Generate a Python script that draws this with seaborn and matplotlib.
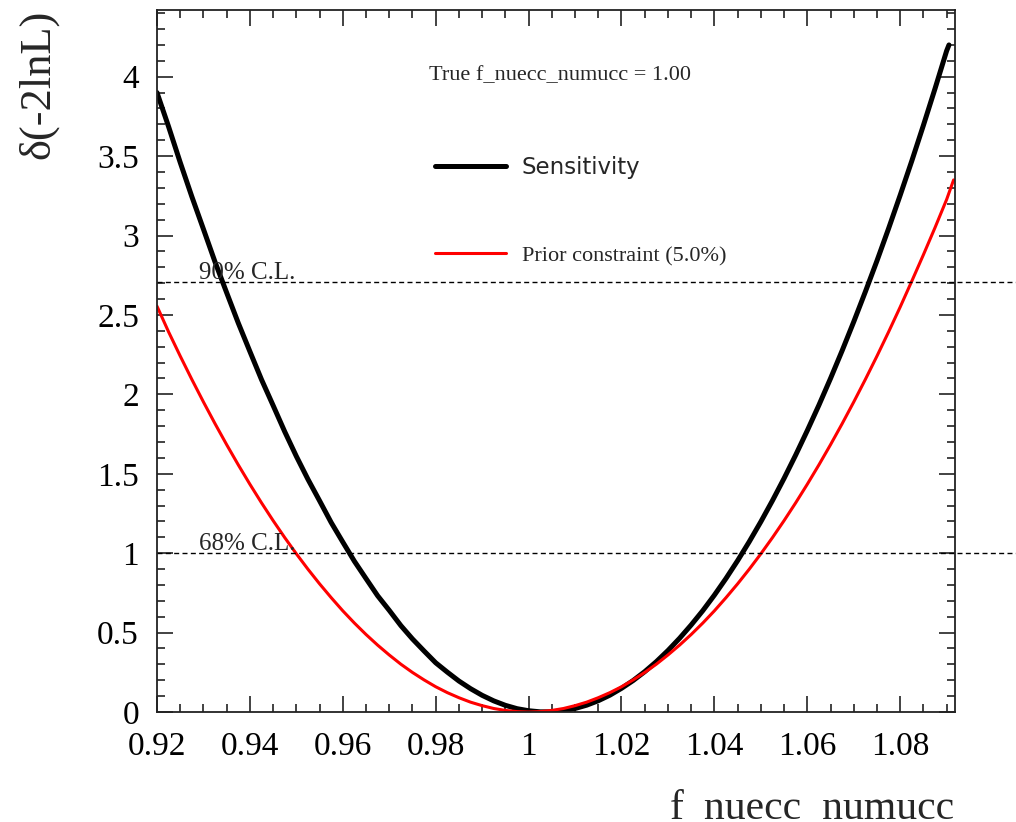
import matplotlib
matplotlib.use("Agg")
import matplotlib.pyplot as plt
import seaborn as sns
import pandas as pd
from matplotlib.ticker import MultipleLocator
from matplotlib.lines import Line2D

# values
x_sens = [0.920, 0.9225, 0.925, 0.9275, 0.930, 0.9325, 0.935, 0.9375, 0.940, 0.9425,
          0.945, 0.9475, 0.950, 0.9525, 0.955, 0.9575, 0.960, 0.9625, 0.965, 0.9675,
          0.970, 0.9725, 0.975, 0.9775, 0.980, 0.9825, 0.985, 0.9875, 0.990, 0.9925,
          0.995, 0.9975, 1.000, 1.0025, 1.005, 1.0075, 1.010, 1.0125, 1.015, 1.0175,
          1.020, 1.0225, 1.025, 1.0275, 1.030, 1.0325, 1.035, 1.0375, 1.040, 1.0425,
          1.045, 1.0475, 1.050, 1.0525, 1.055, 1.0575, 1.060, 1.0625, 1.065, 1.0675,
          1.070, 1.0725, 1.075, 1.0775, 1.080, 1.0825, 1.085, 1.0875, 1.090, 1.0905]
y_sens = [3.90, 3.685, 3.46, 3.245, 3.04, 2.833, 2.64, 2.449, 2.27, 2.093,
          1.93, 1.765, 1.61, 1.465, 1.33, 1.193, 1.07, 0.949, 0.84, 0.732,
          0.64, 0.544, 0.46, 0.384, 0.31, 0.251, 0.195, 0.147, 0.105, 0.070,
          0.042, 0.021, 0.008, 0.001, 0.001, 0.008, 0.022, 0.043, 0.071, 0.106,
          0.149, 0.198, 0.254, 0.317, 0.387, 0.464, 0.548, 0.638, 0.736, 0.841,
          0.953, 1.072, 1.198, 1.331, 1.471, 1.618, 1.772, 1.932, 2.100, 2.275,
          2.457, 2.646, 2.841, 3.044, 3.254, 3.470, 3.694, 3.925, 4.163, 4.20]

x_prior = [0.920, 0.9225, 0.925, 0.9275, 0.930, 0.9325, 0.935, 0.9375, 0.940, 0.9425,
           0.945, 0.9475, 0.950, 0.9525, 0.955, 0.9575, 0.960, 0.9625, 0.965, 0.9675,
           0.970, 0.9725, 0.975, 0.9775, 0.980, 0.9825, 0.985, 0.9875, 0.990, 0.9925,
           0.995, 0.9975, 1.000, 1.0025, 1.005, 1.0075, 1.010, 1.0125, 1.015, 1.0175,
           1.020, 1.0225, 1.025, 1.0275, 1.030, 1.0325, 1.035, 1.0375, 1.040, 1.0425,
           1.045, 1.0475, 1.050, 1.0525, 1.055, 1.0575, 1.060, 1.0625, 1.065, 1.0675,
           1.070, 1.0725, 1.075, 1.0775, 1.080, 1.0825, 1.085, 1.0875, 1.090, 1.0915]
y_prior = [2.555, 2.393, 2.241, 2.094, 1.952, 1.815, 1.683, 1.556, 1.434, 1.317,
           1.205, 1.098, 0.996, 0.899, 0.807, 0.720, 0.637, 0.560, 0.488, 0.421,
           0.359, 0.301, 0.249, 0.202, 0.159, 0.122, 0.090, 0.062, 0.040, 0.022,
           0.010, 0.0025, 0.000, 0.0025, 0.010, 0.022, 0.040, 0.062, 0.090, 0.122,
           0.159, 0.202, 0.249, 0.301, 0.359, 0.421, 0.488, 0.560, 0.637, 0.720,
           0.807, 0.899, 0.996, 1.098, 1.205, 1.317, 1.434, 1.556, 1.683, 1.815,
           1.952, 2.094, 2.241, 2.393, 2.550, 2.713, 2.879, 3.050, 3.227, 3.35]

cl_levels = [2.71, 1.0]
cl_labels = ["90% C.L.", "68% C.L."]

sens = pd.DataFrame({"x": x_sens, "y": y_sens})
prior = pd.DataFrame({"x": x_prior, "y": y_prior})

sns.set_style("ticks")
plt.rcParams["font.family"] = ["Liberation Serif", "DejaVu Serif"]

fig = plt.figure(figsize=(10.16, 8.22), dpi=100)
ax = fig.add_axes([157 / 1016, 110 / 822, 798 / 1016, 702 / 822])

sns.lineplot(data=sens, x="x", y="y", color="black", lw=3.6, sort=False, ax=ax,
             solid_joinstyle="round")
sns.lineplot(data=prior, x="x", y="y", color="#ff0000", lw=2.2, sort=False, ax=ax,
             solid_joinstyle="round")

for lev, lab in zip(cl_levels, cl_labels):
    ax.axhline(lev, xmin=0, xmax=1.08, color="black", lw=1.0,
               ls=(0, (3.6, 2.4)), clip_on=False)
    ax.annotate(lab, (0.929, lev), xytext=(0, 2), textcoords="offset points",
                va="baseline", ha="left", fontsize=18)

ax.set_xlim(0.92, 1.0918)
ax.set_ylim(0, 4.42)
ax.xaxis.set_major_locator(MultipleLocator(0.02))
ax.xaxis.set_minor_locator(MultipleLocator(0.005))
ax.yaxis.set_major_locator(MultipleLocator(0.5))
ax.yaxis.set_minor_locator(MultipleLocator(0.1))
ax.xaxis.set_major_formatter(plt.FuncFormatter(lambda v, p: f"{v:.2f}".rstrip("0").rstrip(".")))
ax.yaxis.set_major_formatter(plt.FuncFormatter(lambda v, p: f"{v:.1f}".rstrip("0").rstrip(".")))

ax.tick_params(which="both", direction="in", top=True, right=True,
               width=1.2, colors="#222222", labelcolor="black")
ax.tick_params(which="major", length=11.5, labelsize=24)
ax.tick_params(which="minor", length=5.8)
ax.tick_params(axis="x", which="major", pad=14)
ax.tick_params(axis="y", which="major", pad=13)
for s in ax.spines.values():
    s.set_linewidth(1.3)
    s.set_color("#222222")

ax.set_ylabel("δ(-2lnL)", fontsize=32, loc="top")
ax.yaxis.set_label_coords(-0.123, 1.0)
ax.set_xlabel("f_nuecc_numucc", fontsize=30, loc="right")
ax.xaxis.label.set_va("baseline")
ax.xaxis.set_label_coords(1.0, -(819 - 712) / 702)

ax.text(0.505, 0.907, "True f_nuecc_numucc = 1.00", transform=ax.transAxes,
        ha="center", va="center", fontsize=16)

handles = [Line2D([], [], color="black", lw=3.6),
           Line2D([], [], color="#ff0000", lw=2.2)]
leg = ax.legend(handles, ["Sensitivity", "Prior constraint (5.0%)"],
                loc="upper left", bbox_to_anchor=(435 / 1016, 1 - 156 / 822),
                bbox_transform=fig.transFigure, frameon=False, fontsize=16,
                handlelength=3.2, handletextpad=0.7, labelspacing=3.0,
                borderpad=0, borderaxespad=0)
leg.get_texts()[0].set_fontfamily("DejaVu Sans")
leg.get_texts()[0].set_fontsize(16.5)

fig.savefig("out.png", dpi=100)
